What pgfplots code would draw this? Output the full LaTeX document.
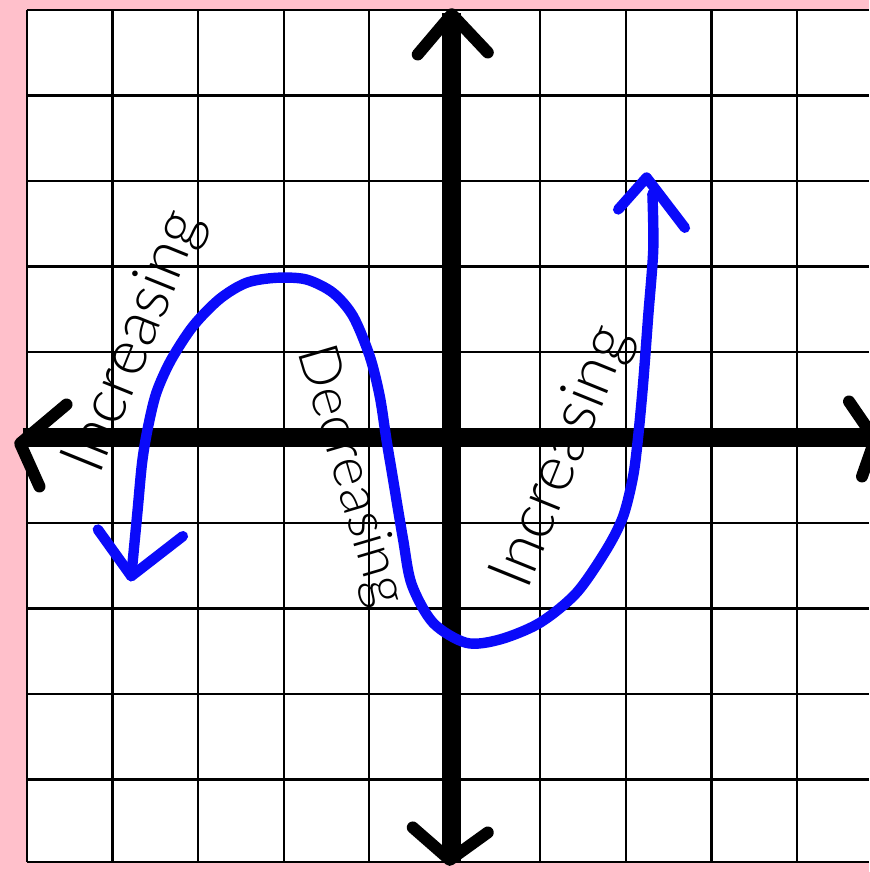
\documentclass[border=0pt]{standalone}
\usepackage{pgfplots}
\pgfplotsset{compat=1.18}
\usepackage{fontspec}
\setmainfont{Liberation Sans}
\IfFontExistsTF{Lato Light}{\newfontfamily\labelfont{Lato Light}}{\newfontfamily\labelfont{Liberation Sans}}
\definecolor{bgpink}{RGB}{255,192,203}
\definecolor{penblue}{RGB}{10,10,250}

\begin{document}
\begin{tikzpicture}
\fill[bgpink] (-13.5pt,-5pt) rectangle (421pt,431pt);
\useasboundingbox (-13.5pt,-5pt) rectangle (421pt,431pt);
\begin{axis}[
  at={(0,0)}, anchor=south west,
  scale only axis, width=421pt, height=426pt,
  xmin=-5, xmax=4.842, ymin=-4.965, ymax=5,
  axis line style={draw=none},
  axis background/.style={fill=white},
  xtick={-5,-4,-3,-2,-1,0,1,2,3,4},
  ytick={-4.965,-4,-3,-2,-1,0,1,2,3,4,5},
  xticklabels={}, yticklabels={},
  major tick length=0pt,
  grid=major,
  grid style={black, line width=1.1pt},
  clip=false,
]
% labels sit under the axes
\node[rotate=68, font=\labelfont\fontsize{32}{32}\selectfont] at (axis cs:-3.73,1.12) {Increasing};
\node[rotate=-73.6, font=\labelfont\fontsize{28}{28}\selectfont] at (axis cs:-1.23,-0.45) {Decreasing};
\node[rotate=68, font=\labelfont\fontsize{32}{32}\selectfont] at (axis cs:1.27,-0.23) {Increasing};

% axes
\addplot[black, line width=9.5pt, forget plot] coordinates {(-5.05,0) (5.3,0)};
\addplot[black, line width=9.5pt, forget plot] coordinates {(-0.035,-4.97) (-0.035,4.97)};
\addplot[black, line width=6pt, line cap=round, line join=round, forget plot]
  coordinates {(-4.538,0.386) (-5.08,-0.07) (-4.854,-0.573)};
\addplot[black, line width=6pt, line cap=round, line join=round, forget plot]
  coordinates {(4.608,0.421) (4.912,-0.023) (4.760,-0.456)};
\addplot[black, line width=6pt, line cap=round, line join=round, forget plot]
  coordinates {(-0.433,4.480) (-0.035,4.95) (0.386,4.503)};
\addplot[black, line width=6pt, line cap=round, line join=round, forget plot]
  coordinates {(-0.491,-4.561) (-0.058,-4.94) (0.386,-4.620)};

% the curve
\addplot[penblue, line width=5.2pt, line cap=round, line join=round, smooth, forget plot]
  coordinates {
  (-3.781,-1.622) (-3.710,-0.881) (-3.655,-0.296) (-3.590,0.100)
  (-3.489,0.520) (-3.320,0.900) (-3.061,1.300) (-2.749,1.620)
  (-2.436,1.809) (-2.085,1.868) (-1.735,1.848) (-1.423,1.692)
  (-1.189,1.419) (-0.994,0.951) (-0.877,0.483) (-0.799,-0.023)
  (-0.721,-0.491) (-0.604,-1.193) (-0.503,-1.720) (-0.253,-2.168)
  (0.136,-2.402) (0.526,-2.363) (0.994,-2.168) (1.423,-1.817)
  (1.774,-1.310) (1.969,-0.920) (2.085,-0.452) (2.144,0.015)
  (2.202,0.639) (2.261,1.419) (2.320,2.199) (2.310,2.850)
  };
\addplot[penblue, line width=5.2pt, line cap=round, line join=round, forget plot]
  coordinates {(-4.172,-1.076) (-3.781,-1.622) (-3.178,-1.154)};
\addplot[penblue, line width=5.2pt, line cap=round, line join=round, forget plot]
  coordinates {(1.910,2.667) (2.242,3.040) (2.690,2.453)};
\end{axis}
\end{tikzpicture}
\end{document}
